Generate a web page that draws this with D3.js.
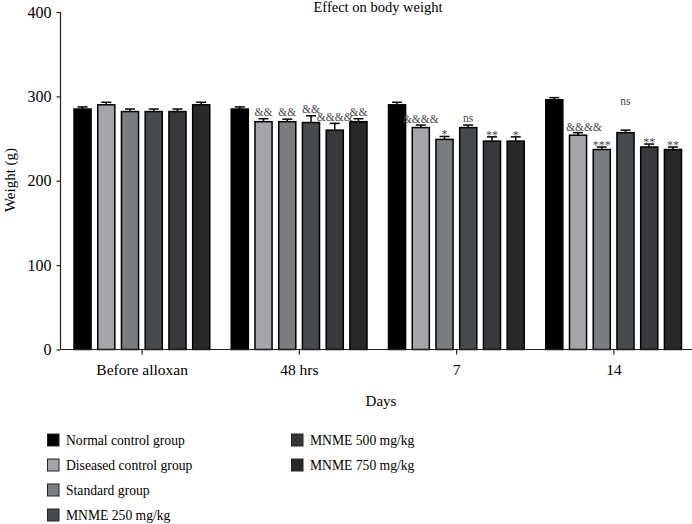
<!DOCTYPE html>
<html><head><meta charset="utf-8">
<script src="https://cdn.jsdelivr.net/npm/d3@7"></script>
<style>body{margin:0;background:#fff}svg{display:block}text{font-family:"Liberation Serif","Times New Roman",serif}</style>
</head><body><svg id="c" width="692" height="524"></svg>
<script>
const days = ["Before alloxan", "48 hrs", "7", "14"];
const groups = ["Normal control group", "Diseased control group", "Standard group", "MNME 250 mg/kg", "MNME 500 mg/kg", "MNME 750 mg/kg"];
const colors = ["#000000", "#a3a5a8", "#7b7e81", "#484b4e", "#37383b", "#27282a"];
// values[group][day]
const values = [
  [285, 285, 290, 296],
  [290, 270, 263, 254],
  [282, 270, 249, 237],
  [282, 269, 263, 257],
  [282, 260, 247, 240],
  [290, 270, 247, 237]
];
const errors = [
  [2.5, 2.5, 3, 2.5],
  [3, 3.5, 3, 3],
  [3, 3, 3.5, 3],
  [3, 8, 3, 3],
  [3, 8, 5, 3.5],
  [3, 3.5, 5, 3]
];
const labels = [
  ["", "", "", ""],
  ["", "&&", "&&&&", "&&&&"],
  ["", "&&", "*", "***"],
  ["", "&&", "ns", "ns"],
  ["", "&&&&", "**", "**"],
  ["", "&&", "*", "**"]
];
const yTicks = [0, 100, 200, 300, 400];

const svg = d3.select("#c");
const x0 = d3.scaleBand().domain(days).range([63.5, 692.5]).paddingInner(0).paddingOuter(0);
const x1 = d3.scaleBand().domain(d3.range(groups.length)).range([10.5, x0.bandwidth() - 11]).paddingInner(0.28).paddingOuter(0);
const y = d3.scaleLinear().domain([0, 400]).range([349.5, 12]);

const g = svg.append("g");
const ann = svg.append("g").attr("opacity", 0.995);
days.forEach((d, di) => {
  groups.forEach((gr, gi) => {
    const bx = x0(d) + x1(gi), bw = x1.bandwidth();
    const v = values[gi][di], e = errors[gi][di];
    const cx = bx + bw / 2;
    g.append("line").attr("x1", cx).attr("x2", cx).attr("y1", y(v)).attr("y2", y(v + e)).attr("stroke", "#000").attr("stroke-width", 1.5);
    g.append("line").attr("x1", cx - 5).attr("x2", cx + 5).attr("y1", y(v + e)).attr("y2", y(v + e)).attr("stroke", "#000").attr("stroke-width", 1.5);
    g.append("rect").attr("x", bx).attr("y", y(v)).attr("width", bw).attr("height", y(0) - y(v))
      .attr("fill", colors[gi]).attr("stroke", "#000").attr("stroke-width", 1.5);
    const lab = labels[gi][di];
    if (lab) {
      let ty = y(v + e) - 3;
      if (lab.startsWith("&&&&")) ty = y(v + e) - 2;
      if (di === 3 && gi === 3) ty = y(v + e) - 25;
      const isStar = lab[0] === "*";
      ann.append("text").attr("x", cx + (di === 3 && gi === 1 ? 6 : 0)).attr("y", isStar ? ty + 5 : ty).attr("text-anchor", "middle")
        .attr("font-size", isStar ? 12 : 11.5).attr("fill", "#4a4a4a").text(lab);
    }
  });
});

// y axis
const ya = svg.append("g").attr("transform", "translate(60.5,0)")
  .call(d3.axisLeft(y).tickValues(yTicks).tickSize(4).tickPadding(5).tickFormat(d3.format("d")));
ya.selectAll("text").attr("font-size", 16).attr("fill", "#000");
ya.selectAll("line,path").attr("stroke", "#222").attr("stroke-width", 1.2);
ya.select(".domain").attr("d", "M0,349.5V12");

// x axis
const xa = svg.append("g").attr("transform", "translate(0,349.5)")
  .call(d3.axisBottom(x0).tickSize(5).tickPadding(9).tickSizeOuter(0));
xa.selectAll("text").attr("font-size", 15.5).attr("fill", "#000");
xa.selectAll("line,path").attr("stroke", "#222").attr("stroke-width", 1.2);
xa.select(".domain").attr("d", "M60.5,0H692");

// titles
svg.append("text").attr("x", 378).attr("y", 12).attr("text-anchor", "middle").attr("font-size", 14.5).text("Effect on body weight");
svg.append("text").attr("x", 381).attr("y", 406).attr("text-anchor", "middle").attr("font-size", 15).text("Days");
svg.append("text").attr("transform", "translate(15,180) rotate(-90)").attr("text-anchor", "middle").attr("font-size", 15).text("Weight (g)");

// legend
const leg = svg.append("g");
groups.forEach((gr, i) => {
  const col = i < 4 ? 0 : 1;
  const row = i < 4 ? i : i - 4;
  const lx = col ? 291 : 47;
  const ly = 440 + row * 25;
  leg.append("rect").attr("x", lx + 0.5).attr("y", ly - 6).attr("width", 11.5).attr("height", 12)
    .attr("fill", colors[i]).attr("stroke", "#222").attr("stroke-width", 1);
  leg.append("text").attr("transform", `translate(${lx + 19},${ly + 5}) scale(0.88,1)`).attr("font-size", 15.5).text(gr);
});
</script></body></html>
